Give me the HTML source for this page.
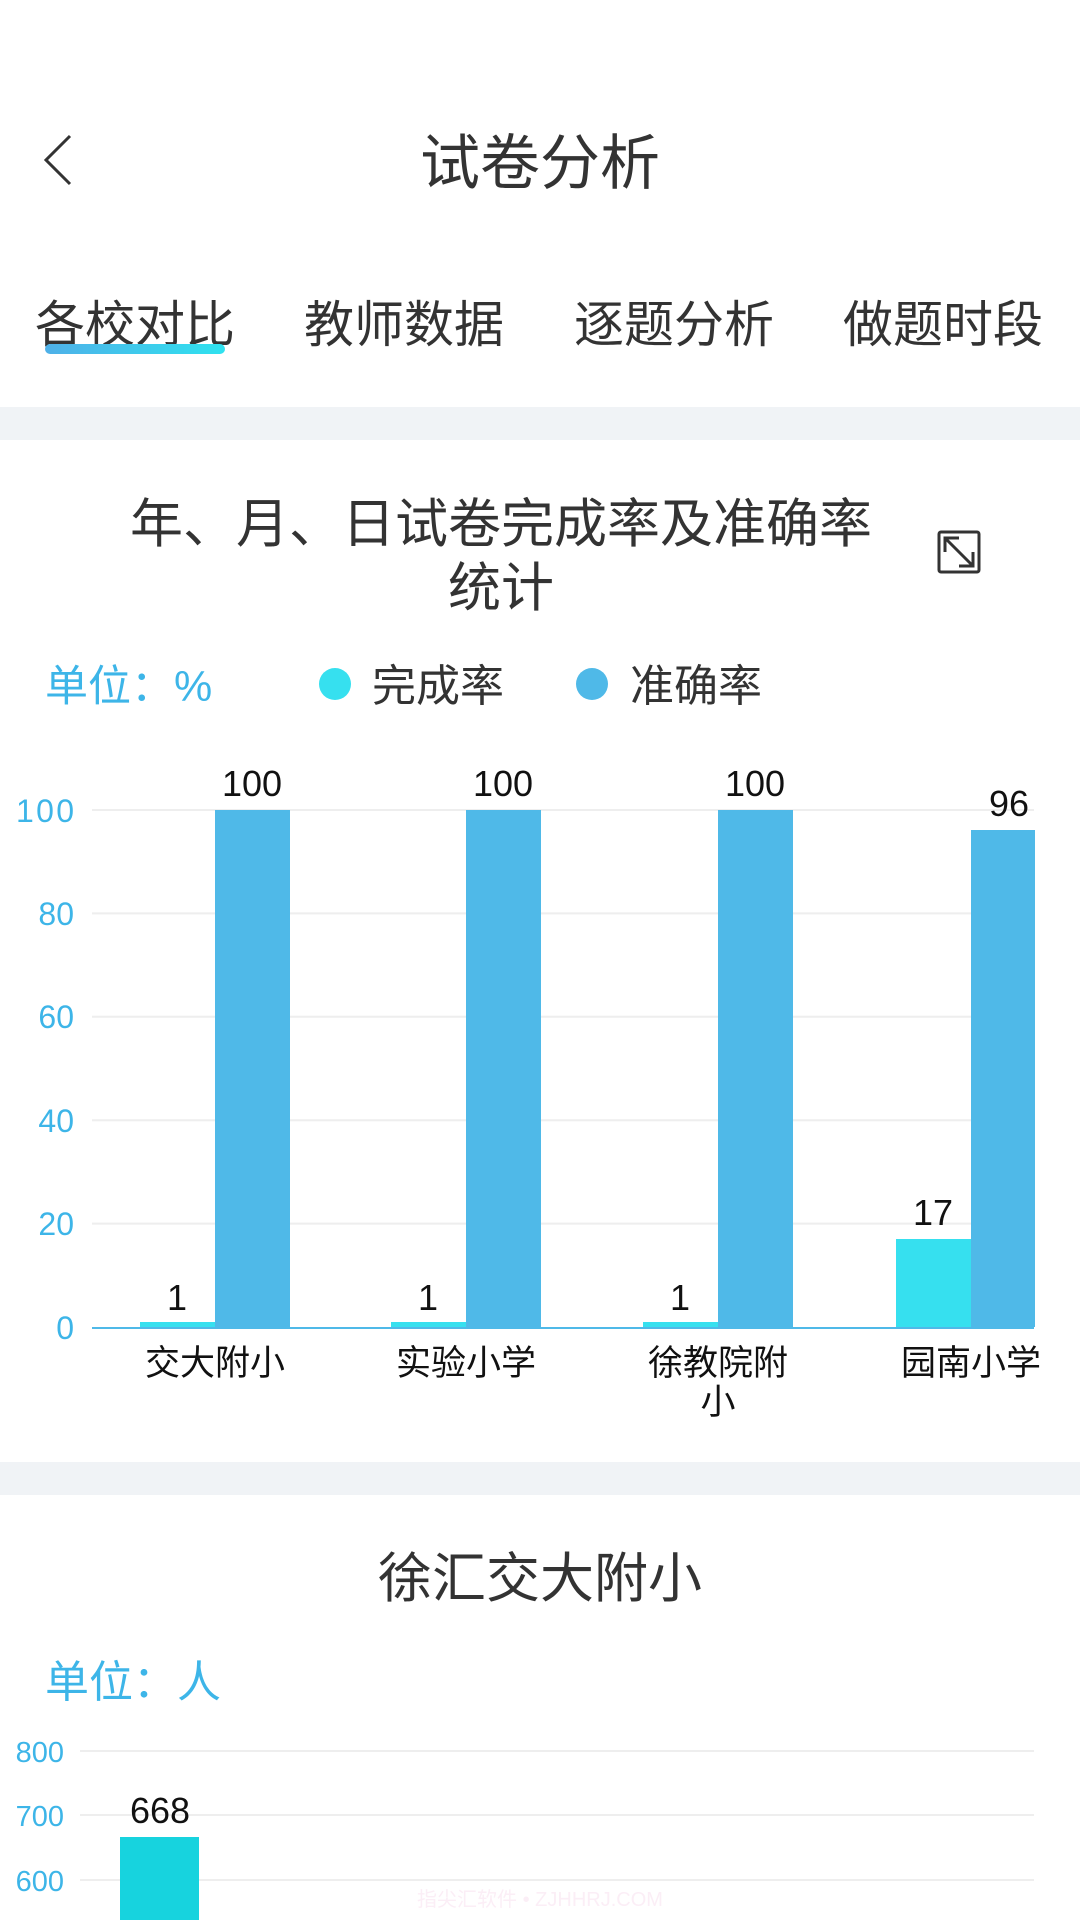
<!DOCTYPE html>
<html><head><meta charset="utf-8"><style>
html,body{margin:0;padding:0;background:#fff;}
svg{display:block;}
text{font-family:"Liberation Sans","Noto Sans CJK SC",sans-serif;}
</style></head><body>
<svg width="1080" height="1920" viewBox="0 0 1080 1920" xmlns="http://www.w3.org/2000/svg">
<defs><linearGradient id="ug" x1="0" x2="1"><stop offset="0" stop-color="#4fb0e8"/><stop offset="1" stop-color="#2fe2ef"/></linearGradient></defs>
<rect width="1080" height="1920" fill="#fff"/>
<!-- header -->
<polyline points="70,136 46,160 70,184" fill="none" stroke="#333" stroke-width="3"/>
<text x="540" y="184" font-size="60" fill="#333" text-anchor="middle">试卷分析</text>
<!-- tabs -->
<g font-size="50" fill="#333" text-anchor="middle">
<text x="135" y="342">各校对比</text>
<text x="404" y="342">教师数据</text>
<text x="674" y="342">逐题分析</text>
<text x="943" y="342">做题时段</text>
</g>
<rect x="45" y="344" width="180" height="10" rx="5" fill="url(#ug)"/>
<rect x="0" y="407" width="1080" height="33" fill="#f0f3f6"/>
<!-- chart title -->
<g font-size="53" fill="#333" text-anchor="middle">
<text x="501" y="542">年、月、日试卷完成率及准确率</text>
<text x="501" y="606">统计</text>
</g>
<g fill="none" stroke="#333" stroke-width="3">
<rect x="939" y="532" width="40" height="40" rx="2"/>
<line x1="945" y1="538" x2="973" y2="566"/>
<polyline points="945,552 945,538 959,538"/>
<polyline points="959,566 973,566 973,552"/>
</g>
<!-- legend -->
<text x="45" y="701" font-size="43" fill="#3db5e8">单位：%</text>
<circle cx="335" cy="684" r="16" fill="#36e0ef"/>
<text x="372" y="701" font-size="44" fill="#333">完成率</text>
<circle cx="592" cy="684" r="16" fill="#4fb9e8"/>
<text x="630" y="701" font-size="44" fill="#333">准确率</text>
<!-- chart 1 grid -->
<g stroke="#eeeeee" stroke-width="2">
<line x1="92" y1="810" x2="1034" y2="810"/>
<line x1="92" y1="913.4" x2="1034" y2="913.4"/>
<line x1="92" y1="1016.8" x2="1034" y2="1016.8"/>
<line x1="92" y1="1120.2" x2="1034" y2="1120.2"/>
<line x1="92" y1="1223.6" x2="1034" y2="1223.6"/>
</g>
<g font-size="32" fill="#3db5e8" text-anchor="end" transform="scale(1,1)">
<text x="74" y="822" textLength="58">100</text>
<text x="74" y="925">80</text>
<text x="74" y="1028">60</text>
<text x="74" y="1132">40</text>
<text x="74" y="1235">20</text>
<text x="74" y="1339">0</text>
</g>
<!-- bars -->
<g fill="#36e0ef">
<rect x="140" y="1322" width="75" height="5"/>
<rect x="391" y="1322" width="75" height="5"/>
<rect x="643" y="1322" width="75" height="5"/>
<rect x="896" y="1239" width="75" height="88"/>
</g>
<g fill="#4fb9e8">
<rect x="215" y="810" width="75" height="517"/>
<rect x="466" y="810" width="75" height="517"/>
<rect x="718" y="810" width="75" height="517"/>
<rect x="971" y="830" width="64" height="497"/>
</g>
<line x1="92" y1="1328" x2="1034" y2="1328" stroke="#4fb9e8" stroke-width="2"/>
<g font-size="36" fill="#111" text-anchor="middle">
<text x="177" y="1310">1</text>
<text x="428" y="1310">1</text>
<text x="680" y="1310">1</text>
<text x="933" y="1225">17</text>
<text x="252" y="796">100</text>
<text x="503" y="796">100</text>
<text x="755" y="796">100</text>
<text x="1009" y="816">96</text>
</g>
<g font-size="35" fill="#111" text-anchor="middle">
<text x="215" y="1375">交大附小</text>
<text x="466" y="1375">实验小学</text>
<text x="718" y="1375">徐教院附</text>
<text x="718" y="1414">小</text>
<text x="971" y="1375">园南小学</text>
</g>
<rect x="0" y="1462" width="1080" height="33" fill="#f0f3f6"/>
<!-- chart 2 -->
<text x="540" y="1597" font-size="54" fill="#333" text-anchor="middle">徐汇交大附小</text>
<text x="45" y="1697" font-size="44" fill="#3db5e8">单位：人</text>
<g stroke="#eeeeee" stroke-width="2">
<line x1="80" y1="1751" x2="1034" y2="1751"/>
<line x1="80" y1="1815" x2="1034" y2="1815"/>
<line x1="80" y1="1880" x2="1034" y2="1880"/>
</g>
<g font-size="29" fill="#3db5e8" text-anchor="end">
<text x="64" y="1762">800</text>
<text x="64" y="1826">700</text>
<text x="64" y="1891">600</text>
</g>
<rect x="120" y="1837" width="79" height="83" fill="#17d3de"/>
<text x="160" y="1823" font-size="36" fill="#111" text-anchor="middle">668</text>
<text x="540" y="1906" font-size="20" fill="#fbeef6" text-anchor="middle">指尖汇软件 • ZJHHRJ.COM</text>
</svg>
</body></html>
